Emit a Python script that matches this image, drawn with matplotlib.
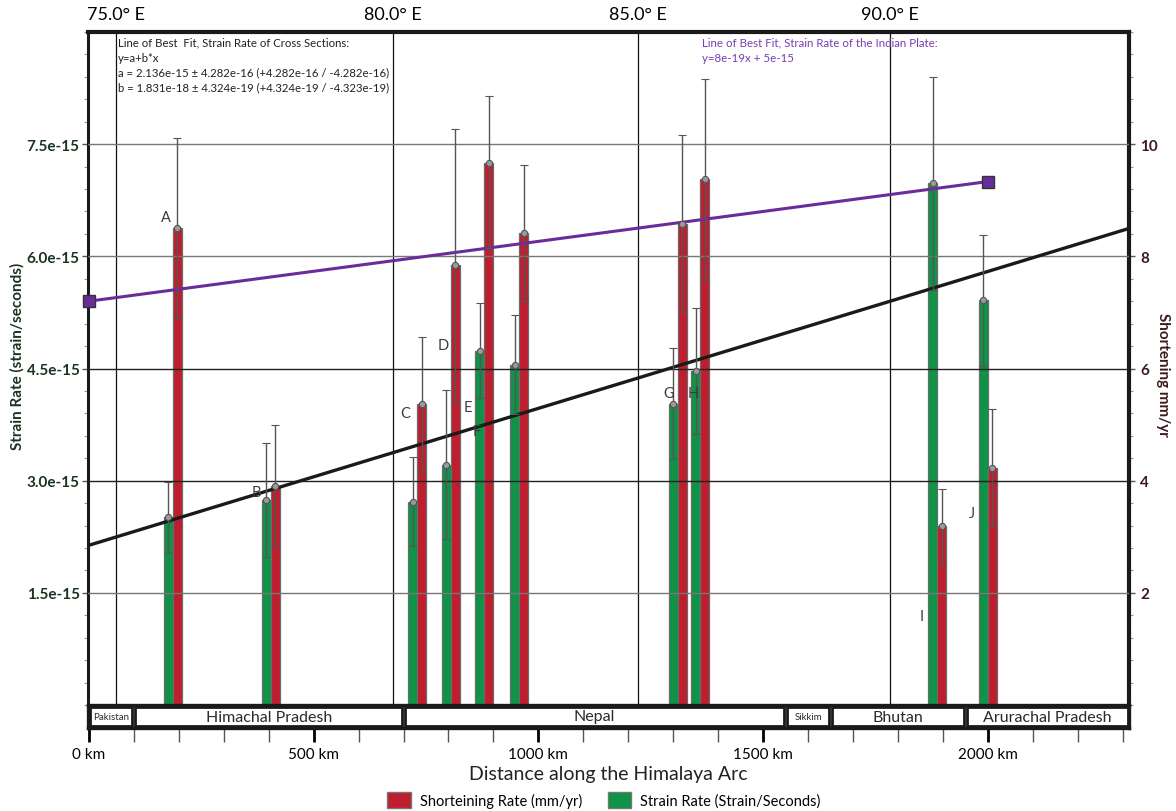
import matplotlib
matplotlib.use("Agg")
import matplotlib.pyplot as plt
from matplotlib.patches import Patch, Rectangle
from matplotlib.ticker import MultipleLocator, FixedLocator
import numpy as np

plt.rcParams['font.family'] = ['Lato', 'DejaVu Sans']

# ---- data -------------------------------------------------------------
sections = ["A", "B", "C", "D", "E", "F", "G", "H", "I", "J"]
distance_km = [187, 405, 730, 805, 880, 957, 1310, 1360, 1887, 2000]

strain_rate = [2.51e-15, 2.745e-15, 2.72e-15, 3.21e-15, 4.74e-15,
               4.55e-15, 4.03e-15, 4.47e-15, 6.98e-15, 5.41e-15]
strain_err_up = [0.47e-15, 0.76e-15, 0.60e-15, 1.00e-15, 0.64e-15,
                 0.66e-15, 0.74e-15, 0.84e-15, 1.42e-15, 0.87e-15]
strain_err_dn = [0.48e-15, 0.76e-15, 0.60e-15, 0.99e-15, 0.64e-15,
                 0.66e-15, 0.74e-15, 0.84e-15, 1.43e-15, 0.88e-15]

shortening = [8.5, 3.91, 5.36, 7.84, 9.66, 8.41, 8.57, 9.37, 3.20, 4.23]
short_err_up = [1.61, 1.09, 1.20, 2.43, 1.19, 1.21, 1.59, 1.80, 0.66, 1.04]
short_err_dn = [1.61, 1.09, 1.20, 2.43, 1.51, 1.21, 1.57, 1.80, 0.68, 1.04]

# best fit of cross-section strain rates: y = a + b*x
fit_a = 2.136e-15
fit_b = 1.831e-18

# Indian plate strain rate line end points
plate_km = [0, 2000]
plate_rate = [5.4e-15, 7.0e-15]

regions = ["Pakistan", "Himachal Pradesh", "Nepal", "Sikkim", "Bhutan",
           "Arurachal Pradesh"]
region_edges = [0, 100, 700, 1550, 1650, 1950, 2314]

longitude_labels = ["75.0° E", "80.0° E", "85.0° E", "90.0° E"]
longitude_km = [60, 676, 1221, 1782]

strain_ticks = [1.5e-15, 3.0e-15, 4.5e-15, 6.0e-15, 7.5e-15]
strain_tick_labels = ["1.5e-15", "3.0e-15", "4.5e-15", "6.0e-15", "7.5e-15"]
short_ticks = [2, 4, 6, 8, 10]
km_ticks = [0, 500, 1000, 1500, 2000]

# letter label anchors (km, strain units)
letter_km = [171, 372, 703, 788, 843, 863, 1290, 1344, 1853, 1964]
letter_y = [6.52e-15, 2.85e-15, 3.90e-15, 4.81e-15, 3.99e-15, 3.67e-15,
            4.17e-15, 4.17e-15, 1.19e-15, 2.57e-15]

# ---- styling ----------------------------------------------------------
RED = "#BE1E2D"
GREEN = "#0E9347"
PURPLE = "#6A2C9A"
GREEN_TXT = "#1C3320"
RED_TXT = "#3D1A1E"
MM_TO_STRAIN = 7.5e-16  # 1 mm/yr shortening shares the scale of 7.5e-16 /s

W, H = 1176, 812
fig = plt.figure(figsize=(W / 100, H / 100), dpi=100)

x0, x1 = 88, 1129
y_top, y_bot = 33, 706
ax = fig.add_axes([x0 / W, 1 - y_bot / H, (x1 - x0) / W, (y_bot - y_top) / H])
xlim = (-2, 2314)
ax.set_xlim(*xlim)
ax.set_ylim(0, 9e-15)

km = np.array(distance_km, dtype=float)
bw = 20

# horizontal grid (drawn over the bars)
grid_cols = ["#777777", "#222222", "#222222", "#777777", "#777777"]
for t, c in zip(strain_ticks, grid_cols):
    ax.axhline(t, color=c, lw=1.0, zorder=4)

# longitude guides
for lk in longitude_km:
    ax.axvline(lk, color="#111111", lw=0.9, zorder=1)

# bars
ax.bar(km - bw / 2, strain_rate, width=bw, color=GREEN, edgecolor="#6b6b6b",
       linewidth=0.9, zorder=3)
short_strain = np.array(shortening) * MM_TO_STRAIN
ax.bar(km + bw / 2, short_strain, width=bw, color=RED, edgecolor="#6b6b6b",
       linewidth=0.9, zorder=3)

# error bars
err_kw = dict(fmt="o", ms=4.5, mfc="#9a9a9a", mec="#555555", mew=0.8,
              ecolor="#555555", elinewidth=1.0, capsize=3, capthick=1.0,
              zorder=6)
ax.errorbar(km - bw / 2, strain_rate, yerr=[strain_err_dn, strain_err_up],
            **err_kw)
ax.errorbar(km + bw / 2, short_strain,
            yerr=[np.array(short_err_dn) * MM_TO_STRAIN,
                  np.array(short_err_up) * MM_TO_STRAIN], **err_kw)

# best fit line of cross sections
xf = np.array(xlim)
ax.plot(xf, fit_a + fit_b * xf, color="#1a1a1a", lw=2.4, zorder=5,
        solid_capstyle="butt")

# Indian plate line
ax.plot(plate_km, plate_rate, color=PURPLE, lw=2.2, zorder=5)
ax.plot(plate_km, plate_rate, ls="none", marker="s", ms=9, mfc=PURPLE,
        mec="#333333", mew=1.0, zorder=7, clip_on=False)

# section letters
for s, lx, ly in zip(sections, letter_km, letter_y):
    ax.text(lx, ly, s, ha="center", va="center", fontsize=10.5,
            color="#3c3c3c", zorder=8)

# spines
ax.spines["bottom"].set_visible(False)
ax.spines["left"].set_linewidth(2.2)
ax.spines["top"].set_linewidth(3.0)
ax.spines["right"].set_linewidth(3.0)
for s in ["left", "top", "right"]:
    ax.spines[s].set_color("#1a1a1a")

# left axis
ax.set_xticks([])
ax.yaxis.set_major_locator(FixedLocator(strain_ticks))
ax.set_yticklabels(strain_tick_labels)
ax.yaxis.set_minor_locator(MultipleLocator(0.3e-15))
ax.tick_params(axis="y", which="major", length=4, width=1, color="#555555",
               labelsize=11, labelcolor=GREEN_TXT, pad=2)
ax.tick_params(axis="y", which="minor", length=3, width=0.8, color="#999999")
for lab in ax.get_yticklabels():
    lab.set_fontweight("bold")
ax.set_ylabel("Strain Rate (strain/seconds)", fontsize=11, fontweight="bold",
              color=GREEN_TXT)
ax.yaxis.set_label_coords(-0.0605, 0.52)

# right axis in mm/yr
sec = ax.secondary_yaxis("right", functions=(lambda v: v / MM_TO_STRAIN,
                                             lambda v: v * MM_TO_STRAIN))
sec.yaxis.set_major_locator(FixedLocator(short_ticks))
sec.yaxis.set_minor_locator(MultipleLocator(0.4))
sec.spines["right"].set_visible(False)
sec.tick_params(axis="y", which="major", length=4, width=1, color="#555555",
                labelsize=11, labelcolor=RED_TXT, pad=4)
sec.tick_params(axis="y", which="minor", length=3, width=0.8, color="#999999")
for lab in sec.get_yticklabels():
    lab.set_fontweight("bold")
fig.text(1163 / W, 1 - 375 / H, "Shortening mm/yr", fontsize=11,
         fontweight="bold", color=RED_TXT, rotation=270, ha="center",
         va="center")

# top longitude axis
top = ax.secondary_xaxis("top")
top.set_xticks(longitude_km)
top.set_xticklabels(longitude_labels)
top.tick_params(axis="x", length=0, labelsize=13, pad=7)
top.spines["top"].set_visible(False)

# fit annotations
fit_lines = ["Line of Best  Fit, Strain Rate of Cross Sections:",
             "y=a+b*x",
             "a = 2.136e-15 ± 4.282e-16 (+4.282e-16 / -4.282e-16)",
             "b = 1.831e-18 ± 4.324e-19 (+4.324e-19 / -4.323e-19)"]
for i, t in enumerate(fit_lines):
    fig.text(118 / W, 1 - (43 + 15 * i) / H, t, fontsize=8.2, va="center",
             ha="left", color="#222222")
plate_lines = ["Line of Best Fit, Strain Rate of the Indian Plate:",
               "y=8e-19x + 5e-15"]
for i, t in enumerate(plate_lines):
    fig.text(702 / W, 1 - (43 + 15 * i) / H, t, fontsize=8.3, va="center",
             ha="left", color="#7A3DB0")

# region band with distance ticks
bax = fig.add_axes([x0 / W, 1 - 729 / H, (x1 - x0) / W, (729 - y_bot) / H])
bax.set_xlim(*xlim)
bax.set_ylim(0, 1)
bax.set_yticks([])
for s in bax.spines.values():
    s.set_linewidth(2.4)
    s.set_color("#1a1a1a")
small = {"Pakistan", "Sikkim"}
for name, e0, e1 in zip(regions, region_edges[:-1], region_edges[1:]):
    bax.add_patch(Rectangle((e0 + 3, 0.08), e1 - e0 - 6, 0.84, fill=False,
                            lw=2.0, ec="#1a1a1a", clip_on=False))
    bax.text((e0 + e1) / 2, 0.5, name, ha="center", va="center",
             fontsize=7 if name in small else 11.5, color="#2a2a2a")
bax.set_xticks(km_ticks)
bax.set_xticklabels([f"{k} km" for k in km_ticks])
bax.xaxis.set_minor_locator(MultipleLocator(100))
bax.tick_params(axis="x", which="major", length=10, width=2, direction="out",
                labelsize=11, pad=4)
bax.tick_params(axis="x", which="minor", length=10, width=1, color="#555555",
                direction="out")
bax.spines["right"].set_visible(False)
bax.axvline(2314, color="#1a1a1a", lw=2.4, clip_on=False)

fig.text(608 / W, 1 - 775 / H, "Distance along the Himalaya Arc",
         fontsize=14, ha="center", va="center", color="#222222")

handles = [Patch(facecolor=RED, edgecolor="#777777"),
           Patch(facecolor=GREEN, edgecolor="#777777")]
fig.legend(handles, ["Shorteining Rate (mm/yr)", "Strain Rate (Strain/Seconds)"],
           loc="center", bbox_to_anchor=(604 / W, 1 - 801 / H), ncol=2,
           frameon=False, fontsize=10.5, handlelength=1.6, handleheight=1.3,
           columnspacing=1.8, handletextpad=0.6)

fig.savefig("out.png", dpi=100, facecolor="white")
